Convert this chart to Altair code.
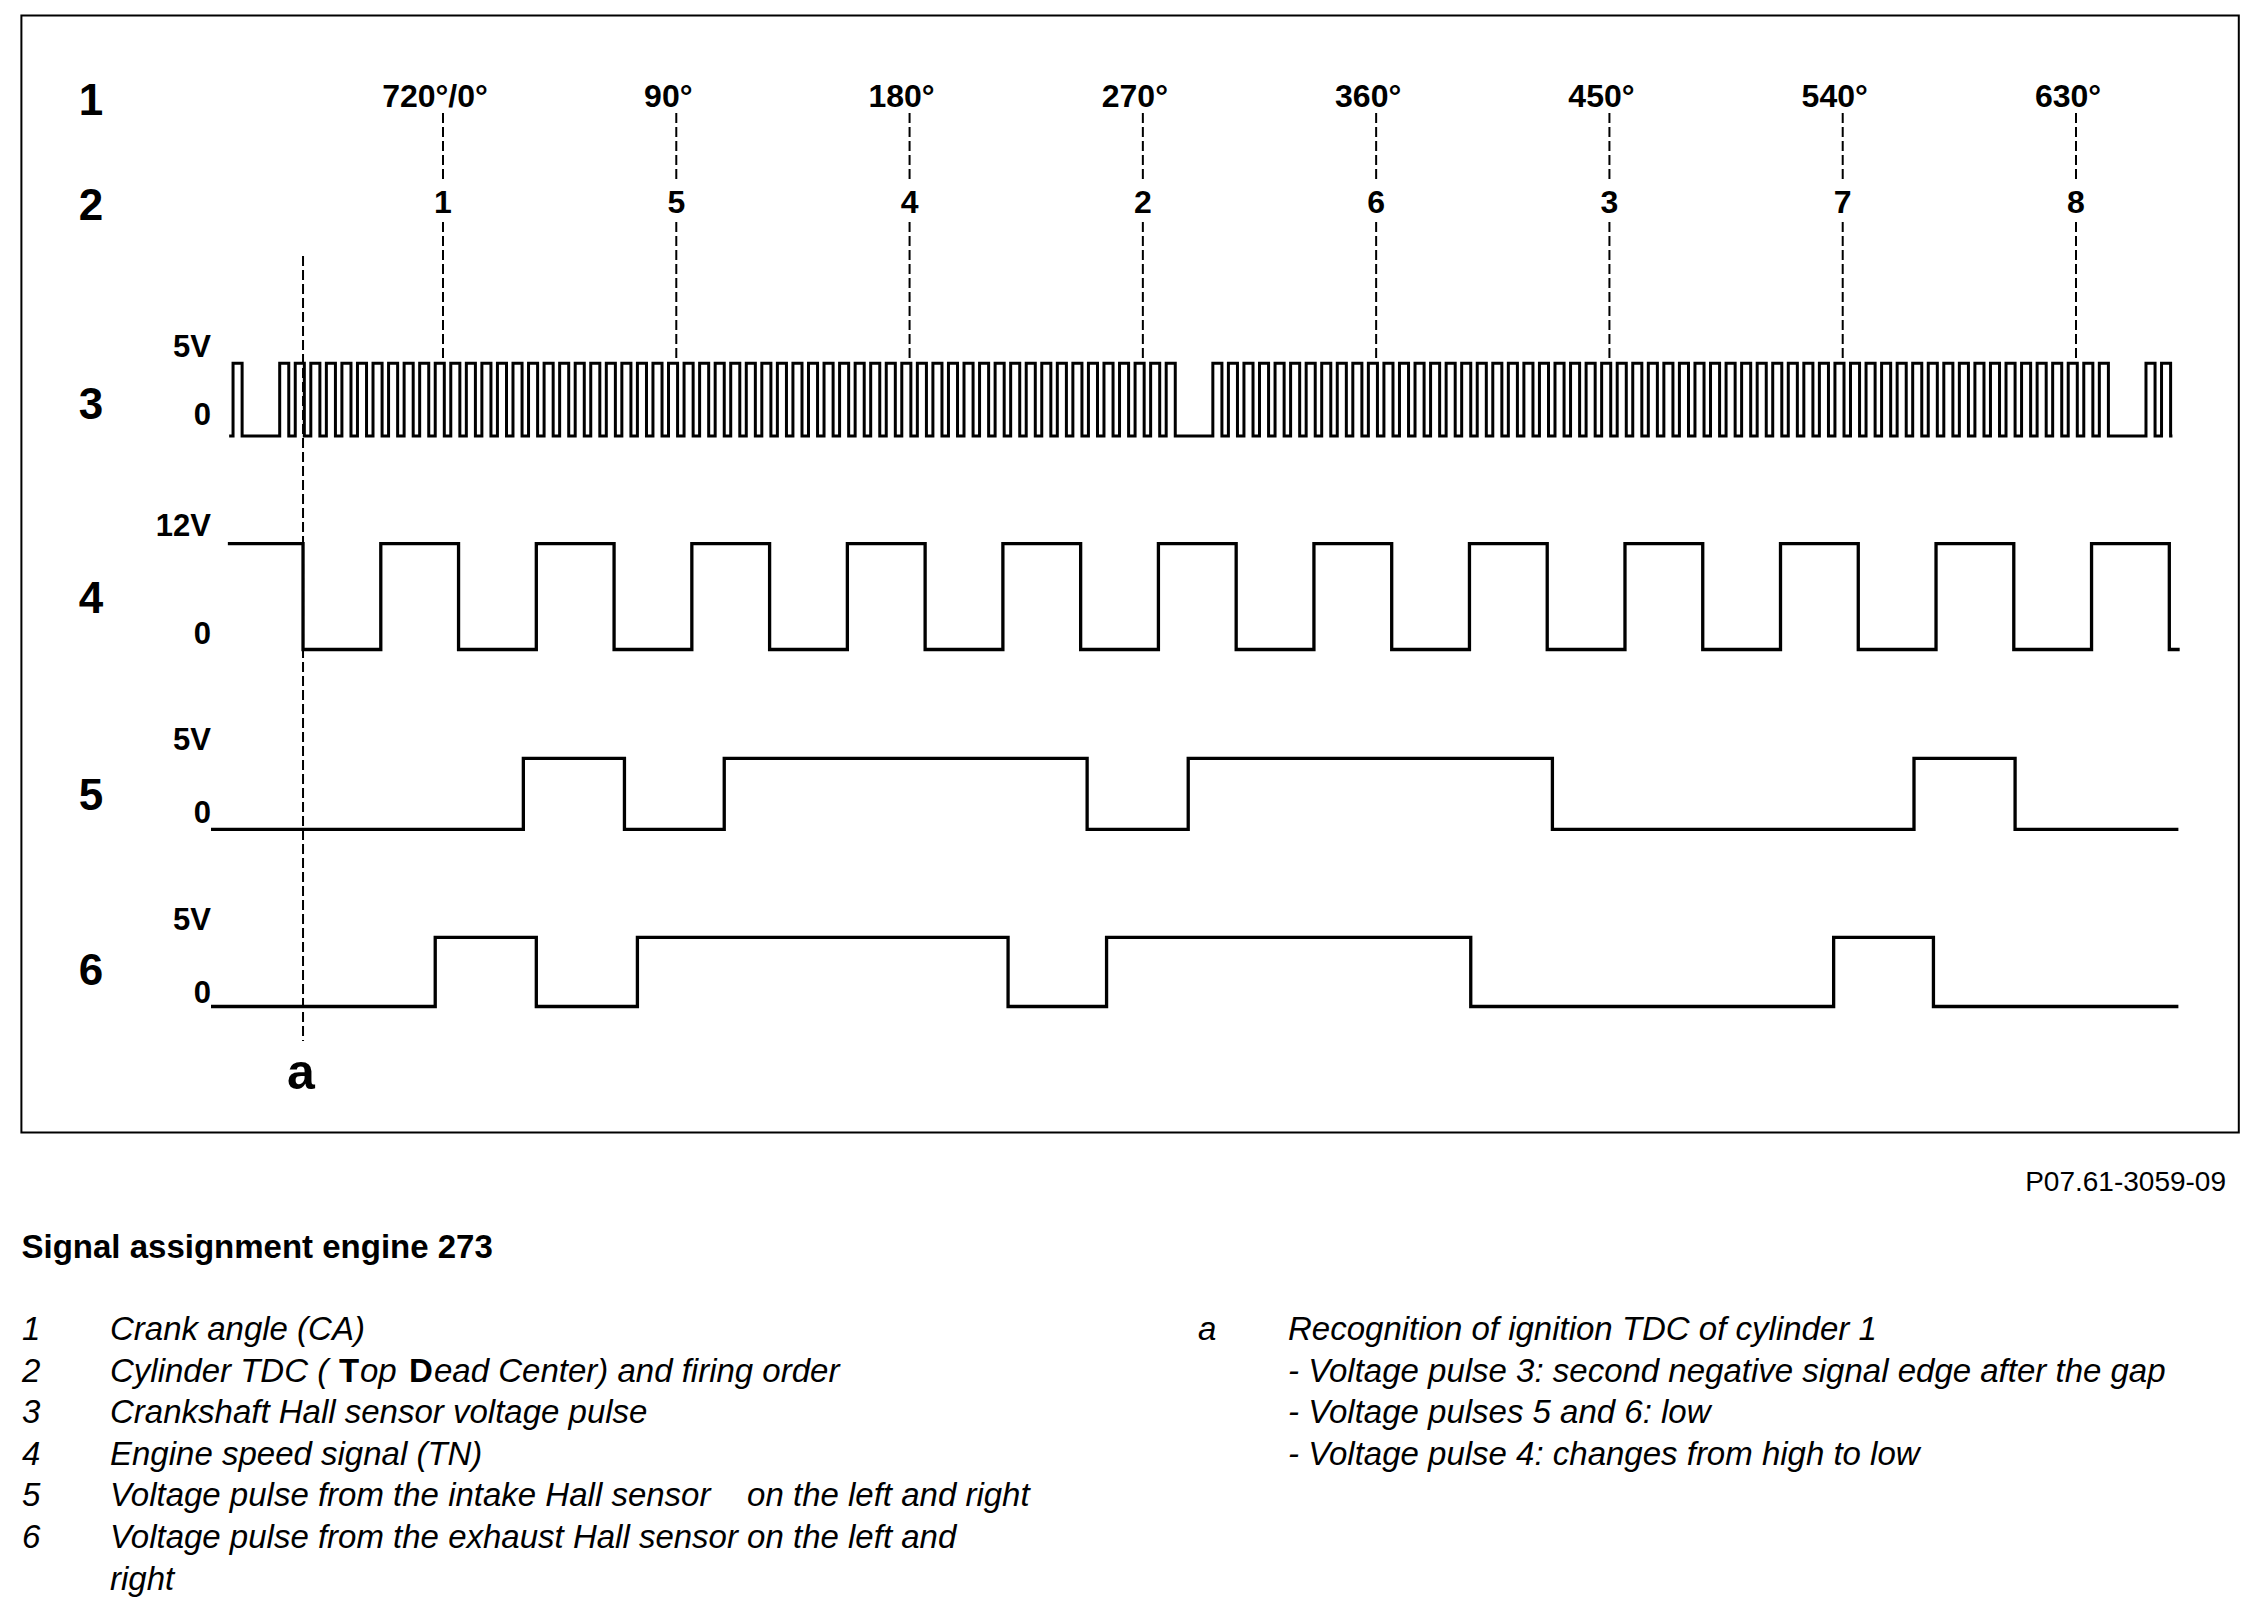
import altair as alt
import pandas as pd

# ---------------- values ----------------
# Row 1 / row 2: crank angle marks (deg CA) and cylinder TDC / firing order
ANGLE_DEG = [0, 90, 180, 270, 360, 450, 540, 630]
ANGLE_LABELS = ["720°/0°", "90°", "180°", "270°", "360°", "450°", "540°", "630°"]
FIRING_ORDER = ["1", "5", "4", "2", "6", "3", "7", "8"]

# Row 3: crankshaft Hall sensor (60-2 wheel) - rising edge of every tooth (deg CA)
CRANK_TOOTH_RISE = [
    -81,
    -63, -57, -51, -45, -39, -33, -27, -21, -15, -9, -3, 3, 9, 15, 21, 27, 33, 39, 45,
    51, 57, 63, 69, 75, 81, 87, 93, 99, 105, 111, 117, 123, 129, 135, 141, 147, 153,
    159, 165, 171, 177, 183, 189, 195, 201, 207, 213, 219, 225, 231, 237, 243, 249,
    255, 261, 267, 273, 279,
    297, 303, 309, 315, 321, 327, 333, 339, 345, 351, 357, 363, 369, 375, 381, 387,
    393, 399, 405, 411, 417, 423, 429, 435, 441, 447, 453, 459, 465, 471, 477, 483,
    489, 495, 501, 507, 513, 519, 525, 531, 537, 543, 549, 555, 561, 567, 573, 579,
    585, 591, 597, 603, 609, 615, 621, 627, 633, 639,
    657, 663,
]
CRANK_TOOTH_HIGH = 3.5          # deg CA a tooth stays high
CRANK_SPAN = [-82.5, 667.2]
CRANK_V = 5

# Row 4: engine speed signal TN - level changes (deg CA), starts high
TN_EDGES = [-54, -24, 6, 36, 66, 96, 126, 156, 186, 216, 246, 276, 306, 336, 366,
            396, 426, 456, 486, 516, 546, 576, 606, 636, 666]
TN_SPAN = [-83, 670]
TN_V = 12

# Rows 5 / 6: intake and exhaust camshaft Hall sensors - level changes, start low
INTAKE_EDGES = [31, 70, 108.5, 248.5, 287.5, 428, 567.5, 606.5]
EXHAUST_EDGES = [-3, 36, 75, 218, 256, 396.5, 536.5, 575]
CAM_SPAN = [-89.5, 669.5]
CAM_V = 5

# point a: second negative edge after the gap
A_DEG = [-54]

ROW_NUMBERS = ["1", "2", "3", "4", "5", "6"]
VOLT_LABELS = ["5V", "0", "12V", "0", "5V", "0", "5V", "0"]

TITLE = "Signal assignment engine 273"
DOC_ID = "P07.61-3059-09"
LEGEND_NUMS = ["1", "2", "3", "4", "5", "6"]
LEGEND_TEXT = [
    "Crank angle (CA)",
    "Crankshaft Hall sensor voltage pulse",
    "Engine speed signal (TN)",
    "Voltage pulse from the intake Hall sensor\u00a0\u00a0\u00a0 on the left and right",
    "Voltage pulse from the exhaust Hall sensor on the left and",
    "right",
]
LEGEND_2 = ["Cylinder TDC (", "T", "op", "D", "ead Center) and firing order"]
NOTE_A = [
    "Recognition of ignition TDC of cylinder 1",
    "- Voltage pulse 3: second negative signal edge after the gap",
    "- Voltage pulses 5 and 6: low",
    "- Voltage pulse 4: changes from high to low",
]

# ---------------- layout (pixels) ----------------
FONT = "Liberation Sans"
W, H = 2236, 1590
XS = alt.Scale(domain=[0, 630], range=[435, 2068])
ROW3_Y = [428, 355.3]
ROW4_Y = [641.5, 535.7]
ROW5_Y = [821.3, 750.3]
ROW6_Y = [998.5, 929.3]


def toggle_series(span, edges, start_level, high):
    pts = [(span[0], start_level)]
    level = start_level
    for e in edges:
        level = high if level == 0 else 0
        pts.append((e, level))
    pts.append((span[1], level))
    df = pd.DataFrame(pts, columns=["deg", "v"])
    df["i"] = range(len(df))
    return df


def crank_series():
    pts = [(CRANK_SPAN[0], 0)]
    for r in CRANK_TOOTH_RISE:
        pts.append((r, CRANK_V))
        pts.append((r + CRANK_TOOTH_HIGH, 0))
    pts.append((CRANK_SPAN[1], 0))
    df = pd.DataFrame(pts, columns=["deg", "v"])
    df["i"] = range(len(df))
    return df


def signal_layer(df, vmax, yrange, width):
    return alt.Chart(df).mark_line(
        interpolate="step-after", color="black", strokeWidth=width,
        strokeJoin="miter", strokeCap="butt"
    ).encode(
        x=alt.X("deg:Q", scale=XS, axis=None),
        y=alt.Y("v:Q", scale=alt.Scale(domain=[0, vmax], range=yrange), axis=None),
        order=alt.Order("i:Q"),
    )


def text_layer(rows, size, weight="normal", style="normal", align="left"):
    df = pd.DataFrame(rows, columns=["t", "px", "py"])
    return alt.Chart(df).mark_text(
        font=FONT, fontSize=size, fontWeight=weight, fontStyle=style,
        align=align, baseline="middle", color="black"
    ).encode(
        x=alt.X("px:Q", scale=None, axis=None),
        y=alt.Y("py:Q", scale=None, axis=None),
        text="t:N",
    )


frame = alt.Chart(pd.DataFrame({"k": [0]})).mark_rect(
    fillOpacity=0, stroke="black", strokeWidth=2
).encode(x=alt.value(13.4), x2=alt.value(2230.8), y=alt.value(7.5), y2=alt.value(1124.5))

sig3 = signal_layer(crank_series(), CRANK_V, ROW3_Y, 3.0)
sig4 = signal_layer(toggle_series(TN_SPAN, TN_EDGES, TN_V, TN_V), TN_V, ROW4_Y, 3.3)
sig5 = signal_layer(toggle_series(CAM_SPAN, INTAKE_EDGES, 0, CAM_V), CAM_V, ROW5_Y, 3.3)
sig6 = signal_layer(toggle_series(CAM_SPAN, EXHAUST_EDGES, 0, CAM_V), CAM_V, ROW6_Y, 3.3)

angles = pd.DataFrame({"deg": ANGLE_DEG, "lab": ANGLE_LABELS, "cyl": FIRING_ORDER})
dash = dict(color="black", strokeWidth=2, strokeDash=[10, 4])
rule_top = alt.Chart(angles).mark_rule(**dash).encode(
    x=alt.X("deg:Q", scale=XS, axis=None), y=alt.value(105), y2=alt.value(175))
rule_low = alt.Chart(angles).mark_rule(**dash).encode(
    x=alt.X("deg:Q", scale=XS, axis=None), y=alt.value(214), y2=alt.value(355))
rule_a = alt.Chart(pd.DataFrame({"deg": A_DEG})).mark_rule(**dash).encode(
    x=alt.X("deg:Q", scale=XS, axis=None), y=alt.value(248), y2=alt.value(1033))

angle_text = alt.Chart(angles).mark_text(
    font=FONT, fontSize=32, fontWeight="bold", baseline="middle", align="center", dx=-8
).encode(x=alt.X("deg:Q", scale=XS, axis=None), y=alt.value(89.2), text="lab:N")
cyl_text = alt.Chart(angles).mark_text(
    font=FONT, fontSize=32, fontWeight="bold", baseline="middle", align="center"
).encode(x=alt.X("deg:Q", scale=XS, axis=None), y=alt.value(194.6), text="cyl:N")

row_y = [93.5, 198.5, 397.5, 592, 788.5, 963.5]
row_text = text_layer([(t, 83, y) for t, y in zip(ROW_NUMBERS, row_y)], 44, "bold", align="center")

volt_y = [340.3, 407.8, 518.8, 626.8, 732.8, 805.8, 912.8, 986.3]
volt_text = text_layer([(t, 203, y) for t, y in zip(VOLT_LABELS, volt_y)], 31, "bold", align="right")

a_text = text_layer([("a", 293, 1066)], 50, "bold", align="center")

doc_text = text_layer([(DOC_ID, 2218, 1174.6)], 28, align="right")
title_text = text_layer([(TITLE, 13.5, 1240)], 33, "bold")

LEG_FS = 33
leg_y = [1321.9, 1363.5, 1405.1, 1446.7, 1488.3, 1529.9, 1571.5]
italic_rows = [(n, 14, y) for n, y in zip(LEGEND_NUMS, leg_y)]
italic_rows += [(LEGEND_TEXT[0], 102, leg_y[0])]
italic_rows += [(t, 102, y) for t, y in zip(LEGEND_TEXT[1:], leg_y[2:])]
italic_rows += [(LEGEND_2[0], 102, leg_y[1]), (LEGEND_2[2], 352, leg_y[1]),
                (LEGEND_2[4], 426, leg_y[1])]
italic_rows += [("a", 1190, leg_y[0])]
italic_rows += [(t, 1280, y) for t, y in zip(NOTE_A, leg_y)]
italic_text = text_layer(italic_rows, LEG_FS, style="italic")
bold_letters = text_layer([(LEGEND_2[1], 331, leg_y[1]), (LEGEND_2[3], 401, leg_y[1])], LEG_FS, "bold")

chart = alt.layer(
    frame, sig3, sig4, sig5, sig6, rule_top, rule_low, rule_a,
    angle_text, cyl_text, row_text, volt_text, a_text,
    doc_text, title_text, italic_text, bold_letters,
).resolve_scale(
    x="independent", y="independent"
).properties(
    width=W, height=H, padding=0,
    autosize=alt.AutoSizeParams(type="none"), background="white",
).configure_view(stroke=None)

chart.save("out.html", embed_options={"renderer": "svg", "actions": False})
